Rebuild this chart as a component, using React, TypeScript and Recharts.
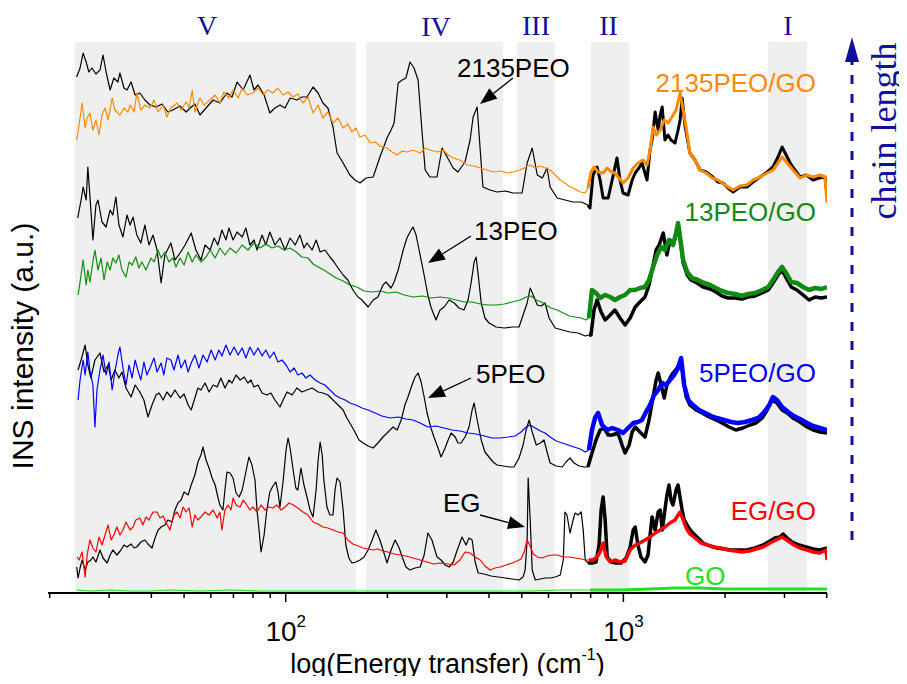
import React from 'react';
import { LineChart, Line, XAxis, YAxis, ReferenceArea } from 'recharts';

// x = log10(energy transfer / cm^-1), y = INS intensity (a.u., offset stacks)
const peo2135: number[][] = [[1.381,516],[1.391,525],[1.400,540],[1.409,531],[1.417,521],[1.426,525],[1.438,519],[1.450,523],[1.459,538],[1.468,521],[1.480,503],[1.491,515],[1.503,511],[1.509,520],[1.521,505],[1.530,503],[1.542,511],[1.554,498],[1.568,500],[1.583,493],[1.598,488],[1.616,486],[1.634,489],[1.651,481],[1.666,483],[1.687,487],[1.705,481],[1.717,485],[1.731,489],[1.746,478],[1.764,485],[1.785,493],[1.805,490],[1.826,500],[1.841,496],[1.856,511],[1.874,503],[1.894,518],[1.906,503],[1.918,508],[1.936,498],[1.953,480],[1.968,485],[1.983,488],[1.998,485],[2.013,495],[2.033,493],[2.048,496],[2.063,496],[2.081,506],[2.096,500],[2.110,490],[2.125,485],[2.140,466],[2.152,440],[2.170,430],[2.190,418],[2.205,413],[2.220,410],[2.238,415],[2.259,416],[2.279,436],[2.300,455],[2.312,463],[2.321,470],[2.333,510],[2.345,513],[2.356,515],[2.368,531],[2.380,525],[2.392,513],[2.404,460],[2.413,423],[2.427,416],[2.448,416],[2.463,445],[2.478,436],[2.496,425],[2.510,421],[2.531,431],[2.546,453],[2.555,476],[2.567,486],[2.576,443],[2.584,406],[2.605,403],[2.626,401],[2.650,402],[2.673,400],[2.700,400],[2.715,430],[2.730,445],[2.745,418],[2.760,415],[2.774,425],[2.783,406],[2.804,395],[2.827,393],[2.851,391],[2.875,391],[2.895,388]];
const peo2135Hi: number[][] = [[2.895,388],[2.901,385],[2.910,418],[2.922,426],[2.931,413],[2.940,395],[2.955,395],[2.970,418],[2.981,435],[2.990,413],[2.999,400],[3.014,398],[3.026,413],[3.035,420],[3.046,425],[3.055,430],[3.070,413],[3.079,443],[3.085,453],[3.094,481],[3.103,463],[3.109,478],[3.115,486],[3.123,453],[3.132,458],[3.141,453],[3.153,450],[3.162,463],[3.168,473],[3.174,495],[3.183,466],[3.197,440],[3.212,433],[3.227,423],[3.245,421],[3.265,416],[3.280,411],[3.295,410],[3.310,405],[3.325,401],[3.345,406],[3.366,406],[3.384,411],[3.405,416],[3.426,421],[3.443,426],[3.458,436],[3.470,446],[3.482,438],[3.494,430],[3.508,423],[3.523,416],[3.541,418],[3.562,413],[3.580,415],[3.597,416],[3.603,398]];
const peo2135Go: number[][] = [[1.381,453],[1.388,468],[1.397,490],[1.406,465],[1.412,475],[1.420,480],[1.429,463],[1.438,473],[1.447,458],[1.456,478],[1.465,485],[1.474,473],[1.486,495],[1.494,483],[1.509,478],[1.521,485],[1.533,481],[1.539,488],[1.551,481],[1.559,500],[1.571,483],[1.583,488],[1.598,485],[1.610,493],[1.622,481],[1.637,488],[1.648,476],[1.660,485],[1.678,490],[1.690,483],[1.705,491],[1.714,485],[1.723,503],[1.731,481],[1.746,495],[1.758,488],[1.776,493],[1.791,498],[1.805,490],[1.817,501],[1.832,495],[1.844,503],[1.859,495],[1.871,505],[1.886,498],[1.903,500],[1.918,505],[1.933,498],[1.947,503],[1.962,500],[1.977,505],[1.992,498],[2.007,501],[2.022,496],[2.036,499],[2.051,490],[2.066,496],[2.081,480],[2.096,488],[2.110,475],[2.125,481],[2.140,470],[2.155,475],[2.170,465],[2.184,469],[2.196,461],[2.208,465],[2.220,456],[2.235,458],[2.250,450],[2.265,451],[2.279,447],[2.300,445],[2.315,441],[2.330,438],[2.345,442],[2.359,441],[2.377,443],[2.398,440],[2.413,445],[2.427,443],[2.448,441],[2.466,443],[2.481,438],[2.496,435],[2.516,433],[2.537,428],[2.558,427],[2.576,425],[2.596,423],[2.614,421],[2.635,422],[2.656,420],[2.673,421],[2.694,423],[2.712,426],[2.724,428],[2.739,425],[2.753,427],[2.768,425],[2.783,423],[2.798,418],[2.813,413],[2.827,410],[2.842,406],[2.857,404],[2.872,401],[2.887,400],[2.895,405]];
const peo2135GoHi: number[][] = [[2.895,405],[2.904,421],[2.913,426],[2.925,421],[2.940,420],[2.952,425],[2.964,421],[2.975,420],[2.987,415],[2.999,410],[3.014,415],[3.029,425],[3.043,430],[3.058,433],[3.070,428],[3.079,443],[3.088,466],[3.097,458],[3.109,463],[3.121,473],[3.132,470],[3.144,476],[3.156,483],[3.168,500],[3.177,483],[3.186,465],[3.197,440],[3.212,433],[3.227,423],[3.245,420],[3.263,415],[3.280,413],[3.301,408],[3.325,403],[3.345,407],[3.366,408],[3.384,413],[3.405,416],[3.426,420],[3.443,423],[3.458,430],[3.470,436],[3.485,430],[3.502,423],[3.523,415],[3.541,418],[3.562,416],[3.582,418],[3.597,416],[3.603,390]];

const peo13: number[][] = [[1.384,375],[1.394,393],[1.400,406],[1.409,393],[1.414,426],[1.423,383],[1.429,353],[1.438,388],[1.444,393],[1.456,371],[1.468,366],[1.480,383],[1.488,378],[1.497,396],[1.506,368],[1.518,356],[1.530,378],[1.539,368],[1.548,376],[1.559,358],[1.571,350],[1.583,368],[1.595,348],[1.607,358],[1.619,343],[1.631,310],[1.642,338],[1.660,350],[1.672,333],[1.687,340],[1.702,348],[1.720,360],[1.734,343],[1.749,333],[1.761,348],[1.776,343],[1.788,355],[1.799,348],[1.811,363],[1.823,353],[1.832,365],[1.844,353],[1.856,361],[1.871,356],[1.882,365],[1.894,348],[1.906,353],[1.915,343],[1.930,358],[1.941,348],[1.953,361],[1.968,348],[1.983,355],[1.998,343],[2.013,355],[2.028,348],[2.042,358],[2.054,345],[2.063,350],[2.078,343],[2.090,353],[2.102,341],[2.116,343],[2.131,336],[2.143,331],[2.155,325],[2.170,318],[2.184,313],[2.199,303],[2.214,296],[2.226,293],[2.244,286],[2.259,293],[2.273,296],[2.288,308],[2.297,311],[2.312,305],[2.321,311],[2.333,323],[2.348,343],[2.359,355],[2.368,361],[2.377,366],[2.386,358],[2.395,343],[2.407,323],[2.421,298],[2.430,286],[2.445,273],[2.457,283],[2.469,286],[2.484,293],[2.499,290],[2.513,285],[2.528,283],[2.540,293],[2.549,310],[2.558,331],[2.564,336],[2.570,318],[2.579,290],[2.590,275],[2.602,270],[2.623,266],[2.647,265],[2.671,266],[2.691,266],[2.706,281],[2.715,290],[2.724,305],[2.733,298],[2.745,288],[2.757,287],[2.768,290],[2.780,275],[2.798,265],[2.819,263],[2.842,261],[2.866,260],[2.887,257],[2.898,258]];
const peo13Hi: number[][] = [[2.898,258],[2.904,258],[2.913,283],[2.922,293],[2.934,281],[2.946,273],[2.961,278],[2.975,283],[2.990,275],[3.005,268],[3.020,275],[3.035,286],[3.049,291],[3.064,296],[3.076,308],[3.088,328],[3.097,343],[3.106,348],[3.118,360],[3.129,338],[3.138,353],[3.147,348],[3.156,358],[3.165,363],[3.177,330],[3.189,318],[3.200,313],[3.218,310],[3.236,306],[3.257,304],[3.274,301],[3.292,297],[3.310,295],[3.331,295],[3.351,294],[3.369,296],[3.390,297],[3.411,300],[3.429,303],[3.443,310],[3.458,318],[3.470,323],[3.482,315],[3.497,306],[3.514,303],[3.532,298],[3.550,293],[3.568,296],[3.586,295],[3.603,296]];
const peo13Go: number[][] = [[1.385,298],[1.391,311],[1.400,333],[1.409,308],[1.414,323],[1.420,311],[1.429,331],[1.435,343],[1.444,323],[1.453,335],[1.462,313],[1.471,331],[1.480,323],[1.488,335],[1.497,330],[1.506,338],[1.515,323],[1.527,316],[1.536,331],[1.545,328],[1.556,336],[1.565,325],[1.574,331],[1.586,323],[1.601,335],[1.610,331],[1.622,343],[1.631,335],[1.642,341],[1.654,331],[1.666,335],[1.675,326],[1.687,335],[1.699,328],[1.711,341],[1.723,331],[1.734,338],[1.749,331],[1.764,336],[1.776,343],[1.791,335],[1.805,345],[1.820,338],[1.835,345],[1.853,340],[1.871,348],[1.888,343],[1.906,350],[1.924,345],[1.941,349],[1.959,345],[1.977,347],[1.995,343],[2.013,345],[2.031,341],[2.048,336],[2.066,335],[2.081,329],[2.096,326],[2.113,323],[2.131,319],[2.149,315],[2.170,312],[2.190,308],[2.211,306],[2.232,302],[2.256,301],[2.279,302],[2.303,300],[2.327,301],[2.351,298],[2.377,296],[2.404,297],[2.430,295],[2.457,296],[2.481,295],[2.505,293],[2.528,291],[2.552,291],[2.576,289],[2.599,288],[2.623,288],[2.647,289],[2.671,291],[2.694,293],[2.712,296],[2.727,297],[2.742,293],[2.757,291],[2.771,288],[2.786,285],[2.804,283],[2.822,280],[2.840,277],[2.857,276],[2.875,275],[2.889,273],[2.898,275]];
const peo13GoHi: number[][] = [[2.898,275],[2.907,303],[2.919,300],[2.931,295],[2.946,298],[2.961,296],[2.975,293],[2.990,296],[3.005,298],[3.020,303],[3.035,303],[3.049,305],[3.064,306],[3.076,313],[3.088,326],[3.100,338],[3.112,346],[3.123,343],[3.135,353],[3.147,348],[3.156,360],[3.162,370],[3.171,348],[3.177,333],[3.189,321],[3.203,315],[3.221,313],[3.239,310],[3.257,308],[3.274,305],[3.292,302],[3.310,300],[3.331,299],[3.351,297],[3.369,299],[3.390,300],[3.411,303],[3.429,306],[3.443,313],[3.458,321],[3.470,326],[3.482,320],[3.497,311],[3.514,310],[3.532,306],[3.550,303],[3.568,305],[3.586,304],[3.603,306]];

const peo5: number[][] = [[1.385,223],[1.394,233],[1.406,248],[1.414,228],[1.423,215],[1.435,233],[1.450,240],[1.462,221],[1.474,228],[1.483,213],[1.494,223],[1.506,215],[1.515,221],[1.527,205],[1.542,196],[1.554,208],[1.568,201],[1.580,193],[1.592,176],[1.604,188],[1.616,198],[1.625,200],[1.637,193],[1.648,201],[1.660,196],[1.672,203],[1.687,195],[1.699,199],[1.711,188],[1.720,183],[1.731,195],[1.740,205],[1.749,203],[1.761,210],[1.773,201],[1.785,208],[1.797,206],[1.808,215],[1.820,205],[1.832,213],[1.841,210],[1.853,218],[1.865,213],[1.877,216],[1.888,210],[1.897,213],[1.906,206],[1.918,208],[1.930,200],[1.944,198],[1.956,200],[1.968,193],[1.983,186],[1.995,195],[2.004,201],[2.019,198],[2.033,205],[2.048,201],[2.063,203],[2.078,205],[2.096,201],[2.110,200],[2.125,198],[2.140,193],[2.155,188],[2.170,183],[2.181,175],[2.190,170],[2.205,161],[2.217,153],[2.229,150],[2.244,147],[2.259,145],[2.273,150],[2.288,156],[2.303,161],[2.318,166],[2.330,163],[2.342,173],[2.353,188],[2.362,196],[2.374,208],[2.383,216],[2.392,220],[2.401,211],[2.410,196],[2.418,181],[2.430,165],[2.439,156],[2.451,145],[2.460,136],[2.472,145],[2.481,153],[2.490,160],[2.502,156],[2.510,150],[2.519,150],[2.531,156],[2.543,166],[2.552,183],[2.558,190],[2.567,173],[2.579,153],[2.590,141],[2.602,136],[2.614,131],[2.626,128],[2.644,127],[2.662,126],[2.676,126],[2.691,135],[2.703,148],[2.712,163],[2.721,173],[2.730,161],[2.742,148],[2.754,150],[2.765,153],[2.774,141],[2.783,130],[2.801,127],[2.819,126],[2.830,131],[2.842,135],[2.854,130],[2.869,127],[2.884,126],[2.895,126]];
const peo5Hi: number[][] = [[2.895,126],[2.907,140],[2.919,153],[2.931,163],[2.943,165],[2.955,158],[2.967,158],[2.984,160],[2.996,148],[3.005,140],[3.017,148],[3.026,161],[3.035,166],[3.049,161],[3.064,156],[3.076,173],[3.088,196],[3.097,213],[3.103,220],[3.112,208],[3.121,195],[3.129,208],[3.138,215],[3.147,220],[3.159,225],[3.171,233],[3.180,208],[3.186,196],[3.197,188],[3.215,183],[3.233,180],[3.254,176],[3.274,173],[3.292,170],[3.313,166],[3.333,163],[3.354,165],[3.375,168],[3.393,170],[3.411,175],[3.426,183],[3.440,193],[3.455,190],[3.470,183],[3.485,180],[3.502,175],[3.523,171],[3.544,166],[3.562,163],[3.582,161],[3.603,160]];
const peo5Go: number[][] = [[1.385,193],[1.391,213],[1.400,233],[1.406,218],[1.414,241],[1.420,223],[1.429,208],[1.435,166],[1.441,203],[1.450,223],[1.459,238],[1.468,218],[1.477,231],[1.486,203],[1.494,221],[1.503,238],[1.509,246],[1.518,225],[1.527,208],[1.536,228],[1.545,215],[1.554,233],[1.562,223],[1.571,213],[1.580,231],[1.589,218],[1.598,225],[1.610,235],[1.619,221],[1.631,230],[1.639,218],[1.648,235],[1.660,233],[1.669,223],[1.681,238],[1.690,225],[1.702,233],[1.711,221],[1.720,230],[1.731,238],[1.743,225],[1.755,238],[1.767,231],[1.779,243],[1.791,233],[1.802,243],[1.811,237],[1.823,248],[1.835,238],[1.847,246],[1.859,238],[1.871,245],[1.882,235],[1.894,246],[1.906,238],[1.918,245],[1.930,237],[1.941,243],[1.953,235],[1.965,241],[1.977,231],[1.989,233],[2.001,228],[2.013,221],[2.025,225],[2.036,218],[2.048,220],[2.060,215],[2.072,218],[2.087,213],[2.102,210],[2.116,208],[2.131,203],[2.146,198],[2.161,195],[2.176,193],[2.190,190],[2.208,188],[2.226,185],[2.244,183],[2.265,180],[2.285,177],[2.309,175],[2.333,176],[2.356,174],[2.377,173],[2.398,170],[2.421,166],[2.445,167],[2.469,165],[2.493,163],[2.516,162],[2.540,160],[2.564,159],[2.588,157],[2.611,155],[2.635,155],[2.659,156],[2.679,157],[2.697,161],[2.712,166],[2.724,168],[2.739,165],[2.754,162],[2.768,160],[2.783,156],[2.801,152],[2.819,150],[2.836,148],[2.854,146],[2.872,144],[2.887,141],[2.898,143]];
const peo5GoHi: number[][] = [[2.898,143],[2.907,163],[2.916,175],[2.925,180],[2.937,168],[2.952,163],[2.967,165],[2.984,163],[2.999,160],[3.014,165],[3.029,170],[3.043,171],[3.055,173],[3.067,181],[3.079,188],[3.091,198],[3.103,203],[3.115,210],[3.126,208],[3.138,213],[3.150,218],[3.162,225],[3.171,235],[3.180,208],[3.192,193],[3.206,188],[3.224,183],[3.242,180],[3.260,177],[3.277,175],[3.298,173],[3.319,171],[3.339,170],[3.360,171],[3.381,173],[3.399,175],[3.417,181],[3.432,188],[3.443,196],[3.455,193],[3.470,186],[3.488,181],[3.505,177],[3.523,174],[3.544,170],[3.562,167],[3.582,165],[3.603,163]];

const eg: number[][] = [[1.381,26],[1.385,15],[1.391,25],[1.397,33],[1.406,23],[1.414,31],[1.423,33],[1.429,36],[1.438,31],[1.450,43],[1.459,35],[1.471,30],[1.480,38],[1.488,43],[1.500,38],[1.512,43],[1.521,48],[1.530,46],[1.542,49],[1.551,45],[1.559,46],[1.571,51],[1.583,53],[1.592,49],[1.604,45],[1.613,55],[1.622,63],[1.631,66],[1.642,68],[1.651,73],[1.663,71],[1.672,83],[1.681,90],[1.690,93],[1.699,101],[1.711,98],[1.720,108],[1.731,118],[1.740,131],[1.749,138],[1.755,146],[1.764,133],[1.773,125],[1.782,115],[1.791,108],[1.799,96],[1.805,88],[1.814,83],[1.820,103],[1.826,121],[1.835,120],[1.844,115],[1.853,100],[1.862,96],[1.871,103],[1.879,116],[1.885,126],[1.891,136],[1.900,128],[1.909,113],[1.915,83],[1.921,63],[1.927,41],[1.936,58],[1.944,83],[1.953,101],[1.962,107],[1.971,111],[1.977,101],[1.983,86],[1.992,111],[2.001,143],[2.007,155],[2.013,145],[2.022,123],[2.030,105],[2.036,103],[2.045,125],[2.054,108],[2.063,96],[2.072,83],[2.081,76],[2.090,103],[2.096,133],[2.102,151],[2.108,138],[2.113,113],[2.122,86],[2.131,78],[2.140,78],[2.146,103],[2.152,115],[2.161,111],[2.170,83],[2.178,48],[2.187,35],[2.196,30],[2.208,31],[2.220,33],[2.232,36],[2.244,43],[2.256,53],[2.267,63],[2.279,53],[2.291,40],[2.300,30],[2.312,43],[2.324,53],[2.336,45],[2.345,36],[2.356,26],[2.368,23],[2.383,25],[2.398,26],[2.410,38],[2.421,60],[2.433,53],[2.448,36],[2.460,33],[2.472,28],[2.484,26],[2.496,31],[2.508,43],[2.522,56],[2.534,48],[2.543,55],[2.552,53],[2.561,31],[2.570,20],[2.587,19],[2.608,17],[2.629,16],[2.650,15],[2.671,14],[2.691,13],[2.703,16],[2.709,23],[2.715,53],[2.718,115],[2.724,73],[2.730,23],[2.739,13],[2.754,14],[2.768,15],[2.783,15],[2.798,16],[2.813,18],[2.822,33],[2.827,81],[2.833,78],[2.842,60],[2.851,73],[2.857,80],[2.866,78],[2.875,81],[2.881,63],[2.887,33],[2.895,30]];
const egHi: number[][] = [[2.895,30],[2.907,30],[2.919,31],[2.928,48],[2.934,83],[2.940,96],[2.946,73],[2.952,36],[2.964,31],[2.978,30],[2.993,30],[3.008,35],[3.020,46],[3.029,63],[3.035,66],[3.043,48],[3.052,36],[3.064,31],[3.073,38],[3.079,58],[3.085,76],[3.094,63],[3.103,81],[3.109,83],[3.115,63],[3.123,83],[3.129,98],[3.135,108],[3.141,93],[3.147,88],[3.156,103],[3.162,108],[3.168,95],[3.174,83],[3.180,73],[3.192,66],[3.203,61],[3.218,56],[3.236,50],[3.257,47],[3.277,45],[3.298,44],[3.319,43],[3.342,43],[3.366,43],[3.390,45],[3.414,48],[3.434,52],[3.449,55],[3.464,56],[3.473,59],[3.485,55],[3.500,51],[3.520,48],[3.541,46],[3.562,44],[3.582,43],[3.603,45]];
const egGo: number[][] = [[1.382,36],[1.388,33],[1.397,41],[1.406,16],[1.412,38],[1.420,53],[1.429,45],[1.438,41],[1.447,56],[1.456,48],[1.465,58],[1.474,68],[1.483,53],[1.491,58],[1.500,66],[1.509,58],[1.518,63],[1.527,71],[1.539,63],[1.548,66],[1.556,73],[1.568,75],[1.577,68],[1.586,76],[1.595,73],[1.607,81],[1.619,81],[1.628,75],[1.637,77],[1.645,71],[1.657,63],[1.669,78],[1.678,81],[1.687,75],[1.696,86],[1.705,81],[1.714,85],[1.723,66],[1.731,78],[1.740,73],[1.749,76],[1.761,81],[1.773,78],[1.785,83],[1.797,75],[1.805,81],[1.811,63],[1.820,83],[1.829,88],[1.838,83],[1.844,95],[1.853,88],[1.865,86],[1.874,93],[1.885,88],[1.894,83],[1.903,86],[1.915,81],[1.927,88],[1.939,83],[1.950,86],[1.962,85],[1.974,88],[1.986,83],[1.998,86],[2.010,90],[2.022,88],[2.036,85],[2.051,81],[2.066,78],[2.081,71],[2.096,69],[2.110,66],[2.125,65],[2.140,63],[2.155,61],[2.170,60],[2.184,53],[2.199,49],[2.214,47],[2.229,45],[2.244,44],[2.259,43],[2.273,44],[2.288,42],[2.303,41],[2.321,39],[2.339,38],[2.356,37],[2.377,35],[2.398,33],[2.418,31],[2.439,29],[2.457,30],[2.478,29],[2.499,28],[2.516,33],[2.531,41],[2.546,40],[2.561,36],[2.576,33],[2.590,27],[2.605,23],[2.620,25],[2.635,26],[2.653,28],[2.671,30],[2.685,32],[2.697,34],[2.706,41],[2.715,53],[2.724,47],[2.733,39],[2.745,36],[2.760,35],[2.774,37],[2.789,38],[2.804,38],[2.822,36],[2.840,36],[2.857,35],[2.875,34],[2.889,33],[2.898,33]];
const egGoHi: number[][] = [[2.898,33],[2.910,33],[2.922,36],[2.931,41],[2.940,50],[2.949,36],[2.961,31],[2.975,33],[2.990,31],[3.005,32],[3.020,43],[3.035,48],[3.049,50],[3.064,53],[3.079,56],[3.094,60],[3.109,63],[3.123,66],[3.138,70],[3.153,73],[3.162,78],[3.168,81],[3.177,73],[3.186,65],[3.197,59],[3.212,55],[3.230,50],[3.248,48],[3.268,46],[3.289,45],[3.310,43],[3.331,42],[3.351,41],[3.372,42],[3.393,44],[3.414,46],[3.434,50],[3.452,53],[3.470,56],[3.488,52],[3.505,48],[3.523,45],[3.544,43],[3.562,41],[3.582,40],[3.600,43],[3.603,33]];

const go: number[][] = [[1.381,3],[1.420,2],[1.480,3],[1.539,2],[1.598,2],[1.657,3],[1.746,2],[1.835,3],[1.924,2],[2.013,2],[2.102,2],[2.190,2],[2.279,2],[2.368,2],[2.457,2],[2.546,2],[2.635,2],[2.724,2],[2.813,3],[2.901,3]];
const goHi: number[][] = [[2.901,3],[2.990,3],[3.079,4],[3.153,5],[3.227,5],[3.301,4],[3.405,4],[3.523,4],[3.603,4]];

// spectral regions (log10 cm^-1)
const regions: { name: string; from: number; to: number }[] = [
  { name: 'V', from: 1.376, to: 2.208 },
  { name: 'IV', from: 2.238, to: 2.644 },
  { name: 'III', from: 2.685, to: 2.797 },
  { name: 'II', from: 2.904, to: 3.017 },
  { name: 'I', from: 3.429, to: 3.544 },
];

const tickEnergies: number[] = [20, 30, 40, 50, 60, 70, 80, 90, 100, 200, 300, 400, 500, 600, 700, 800, 900, 1000, 2000, 3000, 4000];
const majorEnergies: number[] = [100, 1000];
const X_DOMAIN: [number, number] = [1.296, 3.603];
const Y_DOMAIN: [number, number] = [0, 551];

const C = {
  black: '#000000',
  orange: '#ff8a00',
  green: '#118a11',
  blue: '#0000ff',
  red: '#ff0000',
  lime: '#22e022',
  navy: '#10109c',
  band: '#efefef',
};

const pts = (a: number[][]) => a.map(([x, y]) => ({ x, y }));
const tickPos = tickEnergies.map((e) => Math.log10(e));
const isMajor = (v: number) => majorEnergies.some((e) => Math.abs(Math.log10(e) - v) < 1e-6);

const SANS = '"Liberation Sans", Arial, sans-serif';
const SERIF = '"Liberation Serif", "Times New Roman", serif';

const BottomTick = (props: any) => {
  const { x, y, payload } = props;
  const v = payload.value as number;
  const major = isMajor(v);
  const exp = Math.round(v);
  return (
    <g>
      <line x1={x} y1={y} x2={x} y2={y + (major ? 9 : 5)} stroke="#000" strokeWidth={1.5} />
      {major && (
        <text x={x} y={y + 48} textAnchor="middle" fontSize={28} fontFamily={SANS} fill="#000">
          10<tspan dy={-14} fontSize={17}>{String(exp)}</tspan>
        </text>
      )}
    </g>
  );
};

const TopTick = (props: any) => {
  const { x, y } = props;
  return <line x1={x} y1={y} x2={x} y2={y + 4} stroke="#000" strokeWidth={1.2} />;
};

function Arrow({ x1, y1, x2, y2, color = '#000', w = 1.3, head = 17, hw = 6.5 }: any) {
  const dx = x2 - x1;
  const dy = y2 - y1;
  const len = Math.hypot(dx, dy);
  const ux = dx / len;
  const uy = dy / len;
  const bx = x2 - ux * head;
  const by = y2 - uy * head;
  const px = -uy * hw;
  const py = ux * hw;
  return (
    <g>
      <line x1={x1} y1={y1} x2={bx} y2={by} stroke={color} strokeWidth={w} />
      <polygon points={`${x2},${y2} ${bx + px},${by + py} ${bx - px},${by - py}`} fill={color} />
    </g>
  );
}

const series: { data: number[][]; color: string; width: number }[] = [
  { data: peo2135, color: C.black, width: 1.2 },
  { data: peo2135Hi, color: C.black, width: 3 },
  { data: peo2135Go, color: C.orange, width: 1.2 },
  { data: peo2135GoHi, color: C.orange, width: 3 },
  { data: peo13, color: C.black, width: 1.2 },
  { data: peo13Hi, color: C.black, width: 3.5 },
  { data: peo13Go, color: C.green, width: 1.2 },
  { data: peo13GoHi, color: C.green, width: 4.5 },
  { data: peo5, color: C.black, width: 1.2 },
  { data: peo5Hi, color: C.black, width: 3.5 },
  { data: peo5Go, color: C.blue, width: 1.2 },
  { data: peo5GoHi, color: C.blue, width: 4.5 },
  { data: eg, color: C.black, width: 1.2 },
  { data: egHi, color: C.black, width: 3.5 },
  { data: egGo, color: C.red, width: 1.2 },
  { data: egGoHi, color: C.red, width: 3.5 },
  { data: go, color: C.lime, width: 1.2 },
  { data: goHi, color: C.lime, width: 3 },
];

export default function App() {
  return (
    <div style={{ position: 'relative', width: 907, height: 684, margin: -8 }}>
      <LineChart width={907} height={684} margin={{ top: 42, right: 80, bottom: 8, left: 48 }}>
        <XAxis
          xAxisId="b"
          type="number"
          dataKey="x"
          domain={X_DOMAIN}
          allowDataOverflow
          ticks={tickPos}
          interval={0}
          height={83}
          tickSize={0}
          tickMargin={0}
          tickLine={false}
          axisLine={{ stroke: '#000', strokeWidth: 2 }}
          tick={<BottomTick />}
        />
        <XAxis
          xAxisId="t"
          orientation="top"
          type="number"
          dataKey="x"
          domain={X_DOMAIN}
          allowDataOverflow
          ticks={tickPos}
          interval={0}
          height={0}
          tickSize={0}
          tickMargin={0}
          tickLine={false}
          axisLine={{ stroke: '#000', strokeWidth: 2 }}
          tick={<TopTick />}
        />
        <YAxis yAxisId="l" type="number" domain={Y_DOMAIN} allowDataOverflow width={0} tick={false} tickLine={false} axisLine={{ stroke: '#000', strokeWidth: 2 }} />
        <YAxis yAxisId="r" orientation="right" type="number" domain={Y_DOMAIN} allowDataOverflow width={0} tick={false} tickLine={false} axisLine={{ stroke: '#000', strokeWidth: 2 }} />
        {regions.map((r) => (
          <ReferenceArea key={r.name} xAxisId="b" yAxisId="l" x1={r.from} x2={r.to} fill={C.band} fillOpacity={1} stroke="none" />
        ))}
        {series.map((s, i) => (
          <Line
            key={i}
            xAxisId="b"
            yAxisId="l"
            data={pts(s.data)}
            dataKey="y"
            type="linear"
            stroke={s.color}
            strokeWidth={s.width}
            strokeLinejoin="round"
            dot={false}
            activeDot={false}
            isAnimationActive={false}
          />
        ))}
      </LineChart>
      <svg
        width={907}
        height={684}
        style={{ position: 'absolute', left: 0, top: 0, overflow: 'visible', pointerEvents: 'none' }}
      >
        {/* region numerals */}
        <g fontFamily={SERIF} fontSize={28} fill={C.navy} textAnchor="middle">
          <text x={207} y={35}>V</text>
          <text x={436} y={36}>IV</text>
          <text x={536} y={35}>III</text>
          <text x={608.5} y={35}>II</text>
          <text x={788} y={35}>I</text>
        </g>
        {/* curve labels */}
        <g fontFamily={SANS} fontSize={26}>
          <text x={457} y={77} fill={C.black}>2135PEO</text>
          <text x={816} y={92} fill={C.orange} textAnchor="end">2135PEO/GO</text>
          <text x={816} y={221} fill={C.green} textAnchor="end">13PEO/GO</text>
          <text x={474} y={240} fill={C.black}>13PEO</text>
          <text x={476} y={383} fill={C.black}>5PEO</text>
          <text x={816} y={382} fill={C.blue} textAnchor="end">5PEO/GO</text>
          <text x={443} y={512} fill={C.black}>EG</text>
          <text x={816} y={520} fill={C.red} textAnchor="end">EG/GO</text>
          <text x={685} y={585} fill={C.lime}>GO</text>
        </g>
        <Arrow x1={513} y1={78} x2={480} y2={104} />
        <Arrow x1={471} y1={236} x2={428} y2={263} />
        <Arrow x1={471} y1={378} x2={428} y2={398} />
        <Arrow x1={480} y1={515} x2={525} y2={527} />
        {/* chain length arrow */}
        <line x1={852} y1={540} x2={852} y2={62} stroke={C.navy} strokeWidth={3} strokeDasharray="9 10" />
        <polygon points="852,37 845,62 859,62" fill={C.navy} />
        <text transform="translate(896,131) rotate(-90)" textAnchor="middle" fontFamily={SERIF} fontSize={36} fill={C.navy}>
          chain length
        </text>
        {/* axis titles */}
        <text transform="translate(33,346) rotate(-90)" textAnchor="middle" fontFamily={SANS} fontSize={30} fill="#000">
          INS intensity (a.u.)
        </text>
        <text x={447.5} y={673} textAnchor="middle" fontFamily={SANS} fontSize={27} fill="#000">
          log(Energy transfer) (cm<tspan dy={-13} fontSize={16}>-1</tspan>
          <tspan dy={13}>)</tspan>
        </text>
      </svg>
    </div>
  );
}
